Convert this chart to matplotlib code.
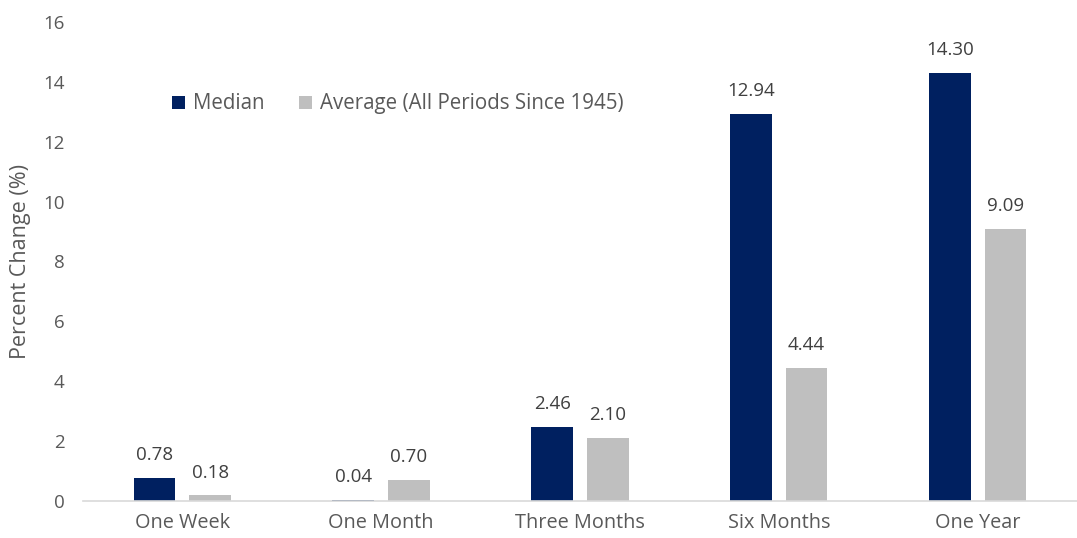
import matplotlib.pyplot as plt
import numpy as np

plt.rcParams['font.family'] = ['Open Sans', 'DejaVu Sans']

categories = ['One Week', 'One Month', 'Three Months', 'Six Months', 'One Year']
median = [0.78, 0.04, 2.46, 12.94, 14.30]
average = [0.18, 0.70, 2.10, 4.44, 9.09]

navy = '#002060'
grey = '#BFBFBF'
txt = '#595959'

fig = plt.figure(figsize=(10.77, 5.38), dpi=100)
ax = fig.add_axes([0.077, 0.069, 0.923, 0.89])

x = np.arange(len(categories))
w = 0.21
b1 = ax.bar(x - 0.14, median, w, color=navy, label='Median')
b2 = ax.bar(x + 0.14, average, w, color=grey, label='Average (All Periods Since 1945)')

for bars, vals in [(b1, median), (b2, average)]:
    for r, v in zip(bars, vals):
        ax.annotate(f'{v:.2f}', (r.get_x() + r.get_width() / 2, v),
                    xytext=(0, 10), textcoords='offset points',
                    ha='center', va='bottom', fontsize=13.5, color='#404040')

ax.set_xlim(-0.5, 4.5)
ax.set_ylim(0, 16)
ax.set_yticks(range(0, 17, 2))
ax.set_xticks(x)
ax.set_xticklabels(categories)
ax.tick_params(axis='both', length=0, labelsize=13.5, colors=txt)
ax.tick_params(axis='x', labelsize=14.3, pad=9)
ax.tick_params(axis='y', pad=13)
for s in ['top', 'right', 'left']:
    ax.spines[s].set_visible(False)
ax.spines['bottom'].set_color('#D9D9D9')
ax.spines['bottom'].set_linewidth(1.2)

ax.set_ylabel('Percent Change (%)', fontsize=15.5, color=txt, labelpad=9)

ax.legend(loc='center left', bbox_to_anchor=(0.09, 0.829), ncol=2, frameon=False,
          fontsize=14.8, labelcolor=txt, handlelength=0.6, handleheight=0.6,
          handletextpad=0.4, columnspacing=1.7, borderpad=0, borderaxespad=0)

fig.savefig('out.png', dpi=100)
